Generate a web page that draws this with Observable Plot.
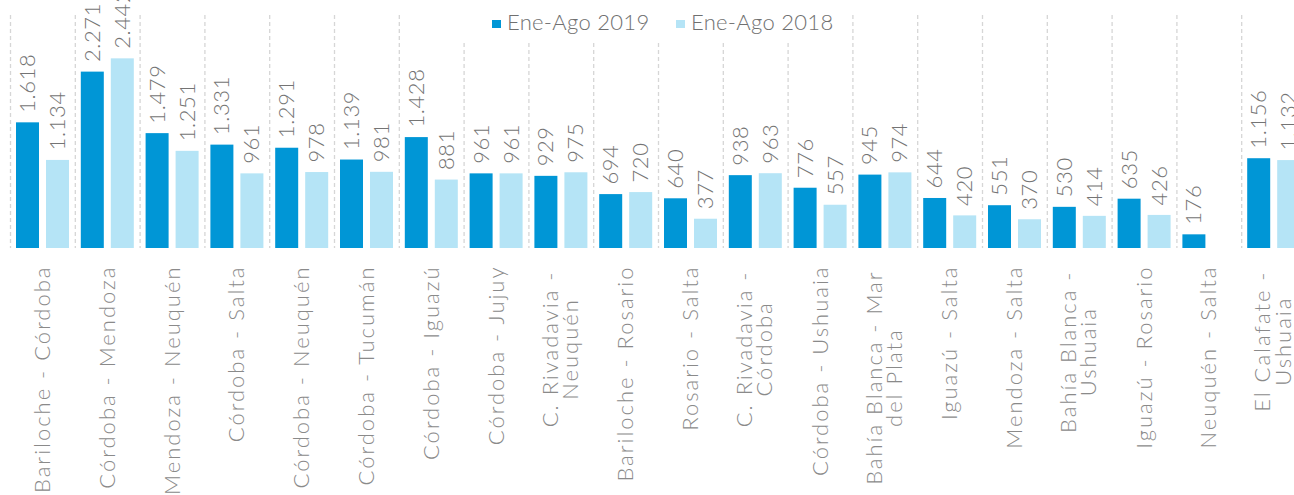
<!DOCTYPE html>
<html><head><meta charset="utf-8">
<script src="https://cdn.jsdelivr.net/npm/d3@7"></script>
<script src="https://cdn.jsdelivr.net/npm/@observablehq/plot@0.6"></script>
<style>
html,body{margin:0;padding:0;background:#fff;overflow:hidden;width:1294px;height:495px}
#wrap{position:relative;width:1294px;height:495px;overflow:hidden}
#legend{position:absolute;left:463px;top:0;width:389px;height:42px;background:#fff;font-family:Lato,sans-serif;font-weight:300;font-size:22px;color:#707070}
#legend .item{position:absolute;top:0;height:42px;white-space:nowrap}
#legend .sw{position:absolute;top:20px;width:9px;height:8px}
#legend .lb{position:absolute;left:15px;top:9px;line-height:26px;letter-spacing:0.3px}
</style></head>
<body><div id="wrap"><div id="chart"></div><div id="legend"></div></div>
<script>
const categories = ["Bariloche - Córdoba","Córdoba - Mendoza","Mendoza - Neuquén","Córdoba - Salta","Córdoba - Neuquén","Córdoba - Tucumán","Córdoba - Iguazú","Córdoba - Jujuy","C. Rivadavia -\nNeuquén","Bariloche - Rosario","Rosario - Salta","C. Rivadavia -\nCórdoba","Córdoba - Ushuaia","Bahía Blanca - Mar\ndel Plata","Iguazú - Salta","Mendoza - Salta","Bahía Blanca -\nUshuaia","Iguazú - Rosario","Neuquén - Salta","El Calafate -\nUshuaia"];
const series = ["Ene-Ago 2019","Ene-Ago 2018"];
const values2019 = [1618,2271,1479,1331,1291,1139,1428,961,929,694,640,938,776,945,644,551,530,635,176,1156];
const values2018 = [1134,2442,1251,961,978,981,881,961,975,720,377,963,557,974,420,370,414,426,null,1132];
const colors = ["#0096D6","#B5E4F6"];

const fmt = d3.formatLocale({decimal:",",thousands:".",grouping:[3],currency:["$",""]}).format(",");
const rows = series.map((s,k)=>categories.map((c,i)=>({cat:c, serie:s, value:(k===0?values2019:values2018)[i]})).filter(d=>d.value!=null));

const W = 1294, H = 495;
const xRange = [10, 1306];
const step = (xRange[1]-xRange[0])/categories.length;
const barW = 23, outer = 6, gap = 7;
const insets = [
  {insetLeft: outer, insetRight: step - outer - barW},
  {insetLeft: outer + barW + gap, insetRight: step - outer - 2*barW - gap}
];
const centers = insets.map(s => s.insetLeft + barW/2 - step/2);

const labelFont = {family:"Lato, sans-serif", weight:300, size:22, ls:2};
const ctx = document.createElement("canvas").getContext("2d");
ctx.font = `${labelFont.weight} ${labelFont.size}px Lato`;
const measure = s => ctx.measureText(s).width + labelFont.ls*s.length;
const labelTop = 17;

const single = categories.filter(c=>!c.includes("\n"));
const multi = categories.filter(c=>c.includes("\n"));
const labelStyle = `letter-spacing:${labelFont.ls}px`;

const marks = [
  Plot.ruleX(categories, {x: d=>d, dx: -step/2, stroke:"#d6d6d6", strokeWidth:1.3, strokeDasharray:"4,3"}),
  ...rows.map((r,k)=>Plot.barY(r, {x:"cat", y:"value", fill:colors[k], ...insets[k]})),
  ...rows.map((r,k)=>Plot.text(r, {x:"cat", y:"value", text:d=>fmt(d.value), rotate:-90, textAnchor:"start", lineAnchor:"middle", dx:centers[k], dy:-10, fontSize:22, fontWeight:300, fill:"#747474"})),
  Plot.text(single, {x:d=>d, text:d=>d, frameAnchor:"bottom", rotate:-90, textAnchor:"end", lineAnchor:"middle", dy:labelTop, fontSize:labelFont.size, fontWeight:labelFont.weight, fill:"#8a8a8a"}),
  ...multi.map(c=>{
    const w = d3.max(c.split("\n"), measure);
    return Plot.text([c], {x:d=>d, text:d=>d, frameAnchor:"bottom", rotate:-90, textAnchor:"middle", lineAnchor:"middle", lineHeight:0.93, dy:labelTop + 5 + w/2, fontSize:labelFont.size, fontWeight:labelFont.weight, fill:"#8a8a8a"});
  })
];

const chart = Plot.plot({
  width: W, height: H,
  marginTop: 15, marginBottom: H - 248, marginLeft: 0, marginRight: 0,
  style: {fontFamily: labelFont.family, overflow:"visible", background:"transparent"},
  x: {type:"band", domain: categories, range: xRange, padding: 0, round:false, axis:null},
  y: {domain:[0,3000], axis:null},
  marks
});
// wider letter spacing for the category labels (last text marks)
chart.querySelectorAll("g[aria-label='text']").forEach((g,i)=>{
  g.style.letterSpacing = i < 2 ? "0.6px" : labelFont.ls + "px";
});
document.getElementById("chart").appendChild(chart);

const legend = document.getElementById("legend");
const legendLeft = [29, 213];
series.forEach((s,k)=>{
  const it = document.createElement("div");
  it.className="item"; it.style.left = legendLeft[k]+"px";
  it.innerHTML = `<div class="sw" style="background:${colors[k]}"></div><div class="lb">${s}</div>`;
  legend.appendChild(it);
});
</script>
</body></html>
